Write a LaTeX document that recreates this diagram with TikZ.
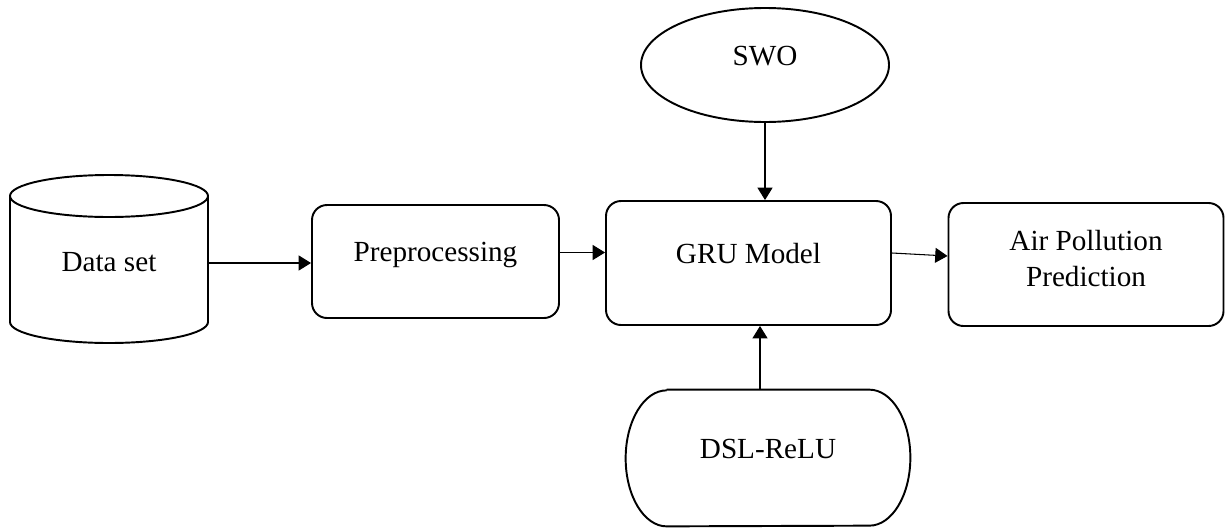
\documentclass[tikz,border=0pt]{standalone}
\usepackage{fontspec}
\setmainfont{Liberation Serif}
\usetikzlibrary{shapes.geometric,arrows.meta}

\tikzset{
  block/.style={draw,line width=1.1pt,rounded corners=0.3cm,align=center,
    text height=11pt,text depth=11pt},
  link/.style={line width=0.6pt,-{Triangle[length=7pt,width=8.5pt]}}
}

\begin{document}
\begin{tikzpicture}[font=\fontsize{16.6}{21}\selectfont]
\useasboundingbox (0,0) rectangle (24.52,10.58);

% data base
\coordinate (dtop) at (2.18,6.66);
\draw[line width=1.1pt] (dtop) ellipse (1.98cm and 0.42cm);
\draw[line width=1.1pt] ([xshift=-1.98cm]dtop) -- (0.20,4.14) arc(180:360:1.98cm and 0.42cm) -- ([xshift=1.98cm]dtop);
\node[minimum width=3.96cm,text height=15pt,text depth=5.8pt] (data) at (2.18,5.32) {Data set};

\node[block,minimum width=4.94cm,minimum height=2.26cm] (prep) at (8.71,5.35) {Preprocessing};
\node[block,minimum width=5.70cm,minimum height=2.48cm] (gru) at (14.97,5.32) {GRU Model};
\node[block,minimum width=5.50cm,minimum height=2.46cm,text height=34pt,text depth=8.5pt] (ap) at (21.72,5.29) {Air Pollution\\Prediction};

\node[draw,ellipse,line width=1.1pt,minimum width=4.96cm,minimum height=2.28cm,inner sep=0pt,
  text height=11pt,text depth=11pt] (swo) at (15.30,9.28) {SWO};

% pill with elliptic ends
\node[minimum width=5.68cm,minimum height=2.72cm,text height=11pt,text depth=11pt] (dsl) at (15.36,1.42) {DSL-ReLU};
\draw[line width=1.1pt] ([xshift=0.82cm]dsl.north west) -- ([xshift=-0.82cm]dsl.north east)
  arc(90:-90:0.82cm and 1.36cm) -- ([xshift=0.82cm]dsl.south west) arc(270:90:0.82cm and 1.36cm);

\draw[link] (data.east) -- (data.east -| prep.west);
\draw[link] ([yshift=0.18cm]prep.east) -- ([yshift=0.18cm]prep.east -| gru.west);
\draw[link] ([yshift=0.2cm]gru.east) -- ([yshift=0.17cm]ap.west);
\draw[link] (swo.south) -- (swo.south |- gru.north);
\draw[link] ([xshift=-0.16cm]dsl.north) -- ([xshift=-0.16cm]dsl.north |- gru.south);

\end{tikzpicture}
\end{document}
